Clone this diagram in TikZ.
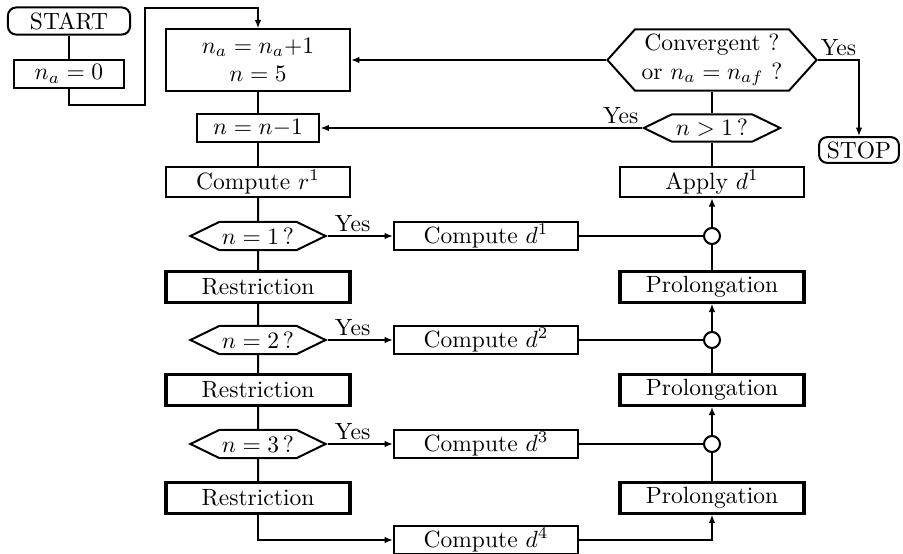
\documentclass[tikz,border=0pt]{standalone}
\usetikzlibrary{arrows.meta,shapes.symbols}

\begin{document}
\begin{tikzpicture}[x=.4255pt,y=-.4255pt,>={Latex[length=3.6pt,width=2.8pt]},line width=.85pt,
  box/.style={draw,line width=.85pt,minimum width=78.3pt,minimum height=12.8pt,inner sep=1pt},
  heavybox/.style={box,line width=1.3pt},
  term/.style={draw,rounded corners=3.5pt,minimum height=11.5pt,inner sep=1pt},
  test/.style={draw,signal,signal to=west and east,signal pointer angle=52,minimum width=57.5pt,minimum height=12pt,inner sep=1pt},
  joint/.style={draw,circle,fill=white,minimum size=6.8pt,inner sep=0pt},
  yes/.style={above,inner sep=1.5pt}]
\path[use as bounding box] (0,0) rectangle (903,554);

% left column
\node[term,minimum width=52pt] (start) at (69,21) {START};
\node[box,minimum width=46.4pt,minimum height=11.5pt] (init) at (69,74) {$n_a = 0$};
\node[box,minimum height=26pt,align=center] (update) at (258,60) {$n_a = n_a{+}1$\\$n = 5$};
\node[box,minimum width=52.3pt,minimum height=11.5pt] (dec) at (258,128) {$n = n{-}1$};
\node[box] (r1) at (258,182) {Compute $r^1$};
\node[test] (t1) at (258,236) {$n = 1\,?$};
\node[heavybox] (res1) at (258,287) {Restriction};
\node[test] (t2) at (258,340) {$n = 2\,?$};
\node[heavybox] (res2) at (258,390) {Restriction};
\node[test] (t3) at (258,444) {$n = 3\,?$};
\node[heavybox] (res3) at (258,498) {Restriction};

% middle column
\node[box,minimum height=11.9pt] (d1) at (486,236) {Compute $d^1$};
\node[box,minimum height=11.9pt] (d2) at (486,340) {Compute $d^2$};
\node[box,minimum height=11.9pt] (d3) at (486,444) {Compute $d^3$};
\node[box,minimum height=11.9pt] (d4) at (486,540) {Compute $d^4$};

% right column
\node[test,align=center,minimum width=89pt,minimum height=26pt,signal pointer angle=96] (conv) at (712,60) {Convergent ?\\or $n_a = n_{af}$ ?};
\node[term,minimum width=34pt,minimum height=11pt] (stop) at (859,150) {STOP};
\node[test,minimum width=58pt,minimum height=11.5pt] (gt) at (712,128) {$n > 1\,?$};
\node[box] (apply) at (712,182) {Apply $d^1$};
\node[joint] (j1) at (712,236) {};
\node[heavybox] (pro1) at (712,287) {Prolongation};
\node[joint] (j2) at (712,340) {};
\node[heavybox] (pro2) at (712,390) {Prolongation};
\node[joint] (j3) at (712,444) {};
\node[heavybox] (pro3) at (712,498) {Prolongation};

\coordinate (low) at (145,105);
\coordinate (high) at (145,8);

% connectors
\draw (start) -- (init);
\draw[->] (init.south) |- (low) -- (high) -| (update.north);
\draw (update) -- (dec);
\draw (dec) -- (r1);
\draw (r1) -- (t1);
\draw (t1) -- (res1);
\draw (res1) -- (t2);
\draw (t2) -- (res2);
\draw (res2) -- (t3);
\draw (t3) -- (res3);
\draw[->] (res3.south) |- (d4.west);
\draw[->] (t1.east) -- node[yes,pos=.38] {Yes} (d1.west);
\draw[->] (t2.east) -- node[yes,pos=.38] {Yes} (d2.west);
\draw[->] (t3.east) -- node[yes,pos=.38] {Yes} (d3.west);

\draw[->] (conv.west) -- (update.east);
\draw[->] (conv.east) -| node[yes,pos=.25] {Yes} (stop.north);
\draw (conv.south) -- (gt.north);
\draw[->] (gt.west) -- node[yes,pos=.065] {Yes} (dec.east);
\draw (apply.north) -- (gt.south);
\draw (d1.east) -- (j1.west);
\draw (d2.east) -- (j2.west);
\draw (d3.east) -- (j3.west);
\draw[->] (j1.north) -- (apply.south);
\draw (pro1.north) -- (j1.south);
\draw[->] (j2.north) -- (pro1.south);
\draw (pro2.north) -- (j2.south);
\draw[->] (j3.north) -- (pro2.south);
\draw (pro3.north) -- (j3.south);
\draw[->] (d4.east) -| (pro3.south);

\end{tikzpicture}
\end{document}
